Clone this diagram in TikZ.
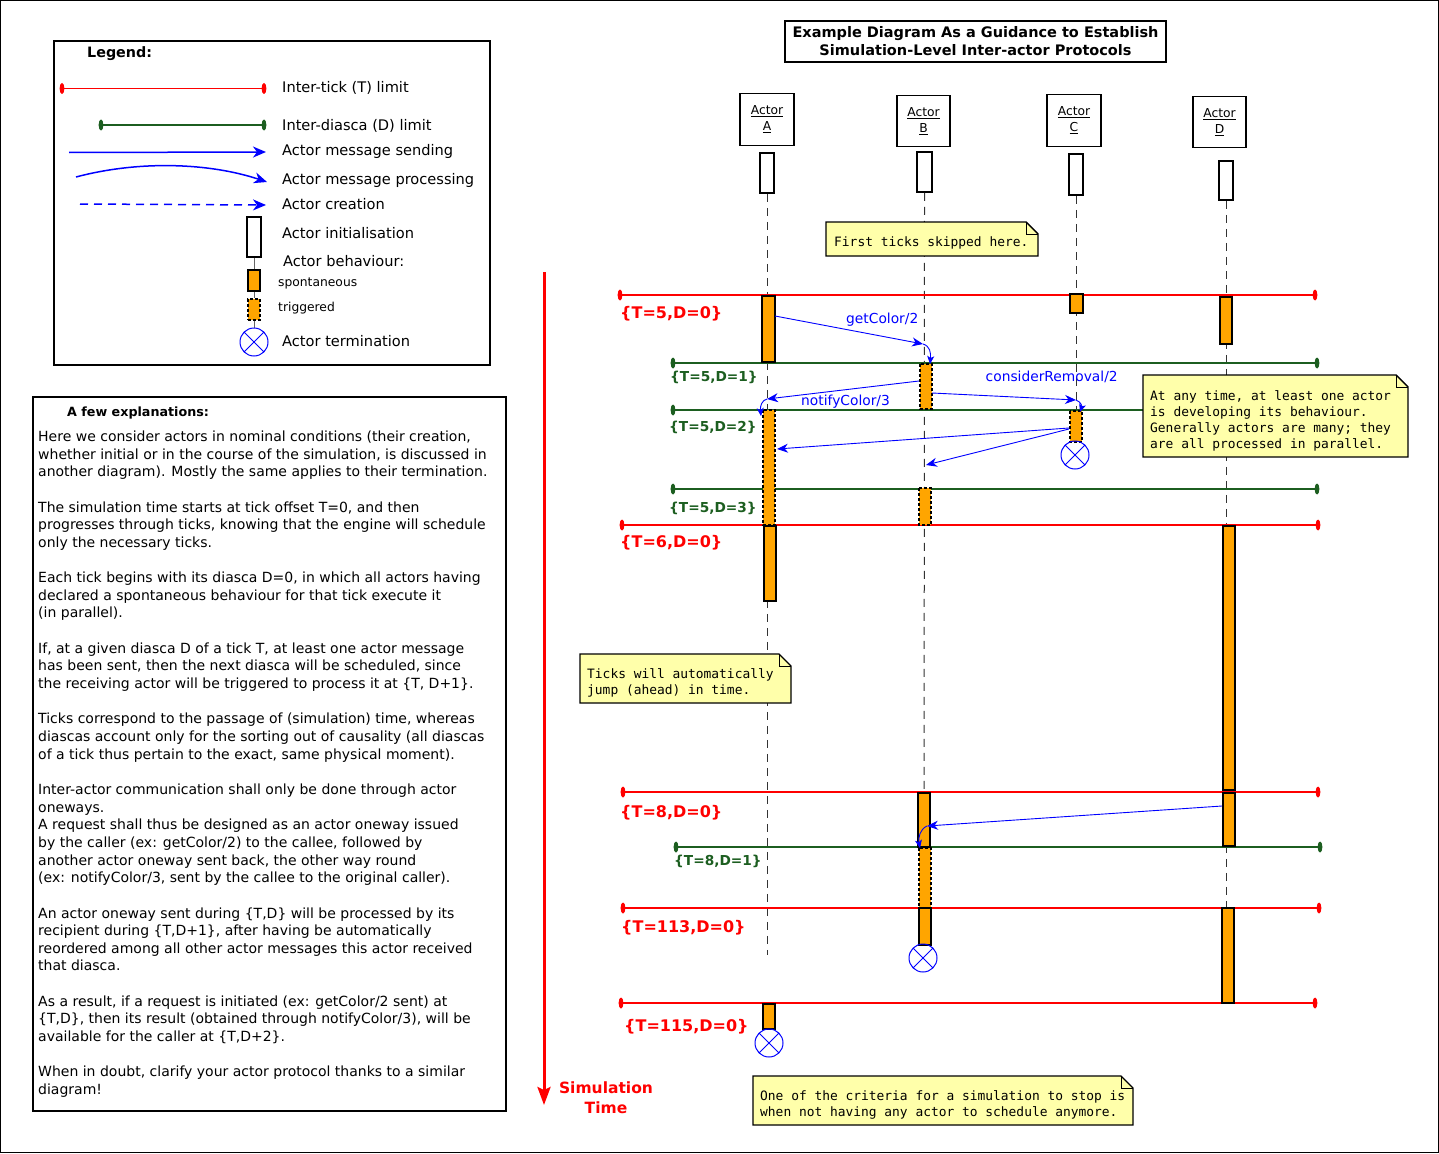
\documentclass[tikz,border=0pt]{standalone}
\usepackage{fontspec}
\setmainfont{DejaVu Sans}
\setmonofont{DejaVu Sans Mono}
\usetikzlibrary{arrows.meta,calc}
\definecolor{tred}{RGB}{255,0,0}
\definecolor{dgreen}{RGB}{28,94,32}
\definecolor{orng}{RGB}{255,165,0}
\definecolor{noteyel}{RGB}{255,255,170}
\definecolor{mblue}{RGB}{0,0,255}
\newcommand{\mytl}[4]{\draw[#1,line width=1.8pt] (#3,#2) -- (#4,#2);
 \fill[#1] (#3,#2) ellipse [x radius=2.4, y radius=5.5];
 \fill[#1] (#4,#2) ellipse [x radius=2.4, y radius=5.5];}
\newcommand{\mynote}[4]{\filldraw[notebox] (#1,#2) -- (#3-12,#2) -- (#3,#2+12) -- (#3,#4) -- (#1,#4) -- cycle;
 \draw[line width=1pt] (#3-12,#2) -- (#3-12,#2+12) -- (#3,#2+12);}
\newcommand{\mybar}[5]{\filldraw[#1] (#2,#3) rectangle (#4,#5);}
\begin{document}
\begin{tikzpicture}[x=1pt,y=-1pt,
 spont/.style={draw=black,fill=orng,line width=1.6pt},
 trig/.style={draw=black,fill=orng,line width=1.6pt,dash pattern=on 3pt off 2pt},
 initb/.style={draw=black,fill=white,line width=1.6pt,inner sep=0},
 life/.style={draw=black!80,line width=1pt,dash pattern=on 8pt off 6pt},
 notebox/.style={draw=black,fill=noteyel,line width=1.4pt},
 msg/.style={draw=mblue,line width=0.9pt,-{Stealth[length=11pt,width=9pt,inset=3.5pt]}},
 proc/.style={draw=mblue,line width=0.9pt,-{Stealth[length=8pt,width=7pt,inset=2pt]}},
 lgmsg/.style={draw=mblue,line width=1.5pt,-{Stealth[length=13pt,width=11pt,inset=4pt]}},
 termpic/.pic={\draw[mblue,line width=1pt] (0,0) circle[radius=14] (-9.9,-9.9)--(9.9,9.9) (-9.9,9.9)--(9.9,-9.9);},
 lgtxt/.style={inner sep=0,anchor=base west,font=\fontsize{14.6}{17}\selectfont},
 smtxt/.style={inner sep=0,anchor=base west,font=\fontsize{12.3}{15}\selectfont},
 ticklbl/.style={inner sep=0,anchor=west,text=tred,font=\bfseries\fontsize{16}{19}\selectfont},
 dlbl/.style={inner sep=0,anchor=west,text=dgreen,font=\bfseries\fontsize{13.7}{16}\selectfont},
 mlbl/.style={inner sep=0,anchor=base west,text=mblue,font=\fontsize{13.8}{16}\selectfont},
 notetxt/.style={inner sep=0,anchor=north west,align=left,font=\ttfamily\fontsize{12.9}{16}\selectfont},
 actor/.style={draw=black,line width=1.6pt,minimum width=54pt,minimum height=52pt,inner sep=0,align=center,font=\fontsize{12.3}{16}\selectfont}
]
\useasboundingbox (0,0) rectangle (1439,1153);
\draw[line width=1pt] (0.5,0.5) rectangle (1438.5,1152.5);

% ---------- Legend ----------
\draw[line width=1.6pt] (54,41) rectangle (490,365);
\node[inner sep=0,anchor=base west,font=\bfseries\fontsize{14.3}{16}\selectfont] (lgtitle) at (87,58) {Legend:};
\mytl{tred}{88.5}{62}{264}
\node[lgtxt] (l1) at (282,93) {Inter-tick (T) limit};
\mytl{dgreen}{125}{101}{264}
\node[lgtxt] (l2) at (282,130) {Inter-diasca (D) limit};
\draw[lgmsg] (69,152.5) -- (266,152);
\node[lgtxt] (l3) at (282,155) {Actor message sending};
\draw[lgmsg] (76,177) .. controls (140,160) and (210,163) .. (267,182);
\node[lgtxt] (l4) at (282,184) {Actor message processing};
\draw[lgmsg,dash pattern=on 8pt off 6pt] (80,204) -- (266,205);
\node[lgtxt] (l5) at (282,209) {Actor creation};
\node[initb,minimum width=14pt,minimum height=40pt] (lgini) at (254,237) {};
\node[lgtxt] (l6) at (282,238) {Actor initialisation};
\node[spont,minimum width=12pt,minimum height=21pt,inner sep=0] (lgsp) at (254,280.5) {};
\node[trig,minimum width=12pt,minimum height=21pt,inner sep=0] (lgtr) at (254,309.5) {};
\draw[black!60,line width=1pt] (lgini.south) -- (lgsp.north) (lgsp.south) -- (lgtr.north) (lgtr.south) -- (254,328);
\pic at (254,342) {termpic};
\node[lgtxt] (l7) at (283,266) {Actor behaviour:};
\node[smtxt] (l8) at (278,286) {spontaneous};
\node[smtxt] (l9) at (278,311) {triggered};
\node[lgtxt] (l10) at (282,346) {Actor termination};

% ---------- Explanations ----------
\draw[line width=1.6pt] (33,397) rectangle (506,1111);
\node[inner sep=0,anchor=base west,font=\bfseries\fontsize{12.7}{15}\selectfont] (extitle) at (67,416) {A few explanations:};
\node[inner sep=0,anchor=north west,align=left,font=\fontsize{14.0}{17.65}\selectfont] (expl) at (38,430.6) {Here we consider actors in nominal conditions (their creation,\\
whether initial or in the course of the simulation, is discussed in\\
another diagram). Mostly the same applies to their termination.\\
\mbox{}\\
The simulation time starts at tick offset T=0, and then\\
progresses through ticks, knowing that the engine will schedule\\
only the necessary ticks.\\
\mbox{}\\
Each tick begins with its diasca D=0, in which all actors having\\
declared a spontaneous behaviour for that tick execute it\\
(in parallel).\\
\mbox{}\\
If, at a given diasca D of a tick T, at least one actor message\\
has been sent, then the next diasca will be scheduled, since\\
the receiving actor will be triggered to process it at \{T, D+1\}.\\
\mbox{}\\
Ticks correspond to the passage of (simulation) time, whereas\\
diascas account only for the sorting out of causality (all diascas\\
of a tick thus pertain to the exact, same physical moment).\\
\mbox{}\\
Inter-actor communication shall only be done through actor\\
oneways.\\
A request shall thus be designed as an actor oneway issued\\
by the caller (ex: getColor/2) to the callee, followed by\\
another actor oneway sent back, the other way round\\
(ex: notifyColor/3, sent by the callee to the original caller).\\
\mbox{}\\
An actor oneway sent during \{T,D\} will be processed by its\\
recipient during \{T,D+1\}, after having be automatically\\
reordered among all other actor messages this actor received\\
that diasca.\\
\mbox{}\\
As a result, if a request is initiated (ex: getColor/2 sent) at\\
\{T,D\}, then its result (obtained through notifyColor/3), will be\\
available for the caller at \{T,D+2\}.\\
\mbox{}\\
When in doubt, clarify your actor protocol thanks to a similar\\
diagram!};

% ---------- Title ----------
\node[draw,line width=1.6pt,minimum width=381pt,minimum height=41pt,align=center,inner sep=0,font=\bfseries\fontsize{14.5}{18}\selectfont] (title) at (975.5,41.5) {Example Diagram As a Guidance to Establish\\Simulation-Level Inter-actor Protocols};

% ---------- Actors ----------
\node[actor] (actA) at (767,119.5) {\underline{Actor}\\\underline{A}};
\node[actor,minimum width=53pt,minimum height=51pt] (actB) at (923.5,121) {\underline{Actor}\\\underline{B}};
\node[actor] (actC) at (1074,120.5) {\underline{Actor}\\\underline{C}};
\node[actor,minimum width=53pt,minimum height=51pt] (actD) at (1219.5,122) {\underline{Actor}\\\underline{D}};
\node[initb,minimum width=14pt,minimum height=40pt] (iniA) at (767,173) {};
\node[initb,minimum width=15pt,minimum height=40pt] (iniB) at (924.5,172) {};
\node[initb,minimum width=14pt,minimum height=41pt] (iniC) at (1076,174.5) {};
\node[initb,minimum width=14pt,minimum height=39pt] (iniD) at (1226,180.5) {};
\coordinate (endA) at (767,955);
\coordinate (endB) at (924,945);
\coordinate (endC) at (1076,441);
\coordinate (endD) at (1226,1003);
\draw[life] (iniA.south) -- (endA);
\draw[life] (iniB.south) -- (endB);
\draw[life] (iniC.south) -- (endC);
\draw[life] (iniD.south) -- (endD);

% ---------- Simulation time ----------
\coordinate (simS) at (544,272);
\coordinate (simE) at (544,1105);
\draw[tred,line width=3pt,-{Stealth[length=18pt,width=13pt,inset=3pt]}] (simS) -- (simE);
\node[align=center,text=tred,inner sep=0,font=\bfseries\fontsize{15.5}{20}\selectfont] (simlbl) at (606,1097.5) {Simulation\\Time};

% ---------- Tick / diasca lines ----------
\mytl{tred}{295}{620}{1315}
\mytl{dgreen}{363}{673}{1317}
\mytl{dgreen}{410}{673}{1317}
\mytl{dgreen}{489}{673}{1317}
\mytl{tred}{525}{622}{1318}
\mytl{tred}{792}{623}{1318}
\mytl{dgreen}{847}{676}{1320}
\mytl{tred}{908}{623}{1319}
\mytl{tred}{1003}{621}{1315}
\node[ticklbl] (t50) at (620,313.5) {\{T=5,D=0\}};
\node[dlbl] (t51) at (670,377) {\{T=5,D=1\}};
\node[dlbl] (t52) at (669,427) {\{T=5,D=2\}};
\node[dlbl] (t53) at (669,508) {\{T=5,D=3\}};
\node[ticklbl] (t60) at (620,542.5) {\{T=6,D=0\}};
\node[ticklbl] (t80) at (620,812.5) {\{T=8,D=0\}};
\node[dlbl] (t81) at (674,861) {\{T=8,D=1\}};
\node[ticklbl] (t113) at (621,927.5) {\{T=113,D=0\}};
\node[ticklbl] (t115) at (624,1026.5) {\{T=115,D=0\}};

% ---------- Activation bars ----------
\mybar{spont}{762}{296}{775}{362}
\mybar{trig}{763}{410}{775}{525}
\mybar{spont}{764}{526}{776}{601}
\mybar{spont}{763}{1004}{775}{1029}
\mybar{trig}{920}{364}{932}{409}
\mybar{trig}{919}{488}{931}{525}
\mybar{spont}{918}{793}{930}{847}
\mybar{trig}{919}{848}{931}{908}
\mybar{spont}{919}{908}{931}{945}
\mybar{spont}{1070}{294}{1083}{313}
\mybar{trig}{1070}{411}{1082}{442}
\mybar{spont}{1220}{297}{1232}{344}
\mybar{spont}{1223}{526}{1235}{790}
\mybar{spont}{1223}{793}{1235}{846}
\mybar{spont}{1222}{908}{1234}{1003}
\pic at (1075,455) {termpic};
\pic at (923,958) {termpic};
\pic at (769,1043) {termpic};

% ---------- Messages ----------
\coordinate (gcS) at (775,316);
\coordinate (gcE) at (923,344);
\coordinate (gcP) at (930,364);
\draw[msg] (gcS) -- (gcE);
\draw[proc] (gcE) .. controls (930,346) and (931,353) .. (gcP);
\node[mlbl] (gclbl) at (846,323) {getColor/2};

\coordinate (ncS) at (919,381);
\coordinate (ncE) at (767,399);
\coordinate (ncP) at (761,416);
\draw[msg] (ncS) -- (ncE);
\draw[proc] (ncE) .. controls (762,400) and (760,406) .. (ncP);
\node[mlbl] (nclbl) at (801,405) {notifyColor/3};

\coordinate (crS) at (932,393);
\coordinate (crE) at (1076,400);
\coordinate (crP) at (1080,412);
\draw[msg] (crS) -- (crE);
\draw[proc] (crE) .. controls (1081,402) and (1082,406) .. (crP);
\node[mlbl] (crlbl) at (985.5,381) {considerRemoval/2};

\coordinate (caS) at (1069,428);
\coordinate (caE) at (777,449);
\draw[msg] (caS) -- (caE);
\coordinate (cbS) at (1069,429);
\coordinate (cbE) at (926,465);
\draw[msg] (cbS) -- (cbE);

\coordinate (dbS) at (1222,806);
\coordinate (dbE) at (927,826);
\coordinate (dbP) at (920,848);
\draw[msg] (dbS) -- (dbE);
\draw[proc] (dbE) .. controls (920,829) and (918,838) .. (dbP);

% ---------- Notes ----------
\mynote{826}{222}{1038}{256}
\node[inner sep=0,anchor=base west,font=\ttfamily\fontsize{12.9}{16}\selectfont] (n1) at (834,246) {First ticks skipped here.};
\mynote{1143}{375}{1408}{457}
\node[notetxt] (n2) at (1150,390.2) {At any time, at least one actor\\is developing its behaviour.\\Generally actors are many; they\\are all processed in parallel.};
\mynote{580}{654}{791}{703}
\node[notetxt] (n3) at (587,668.2) {Ticks will automatically\\jump (ahead) in time.};
\mynote{753}{1076}{1133}{1125}
\node[notetxt] (n4) at (760,1090.2) {One of the criteria for a simulation to stop is\\when not having any actor to schedule anymore.};
\end{tikzpicture}
\end{document}
